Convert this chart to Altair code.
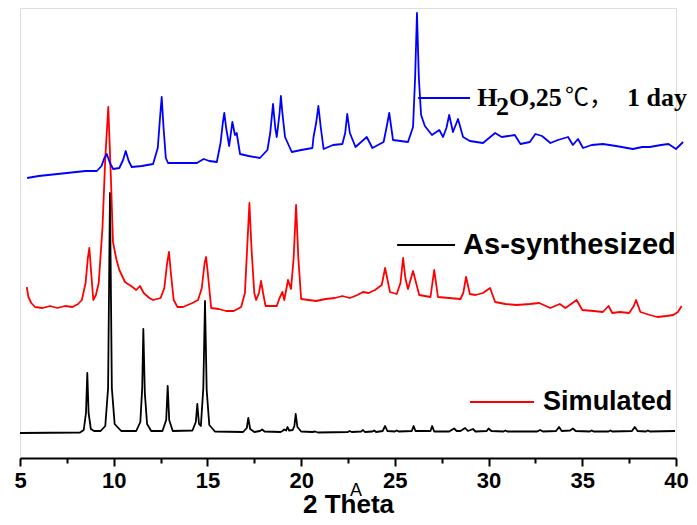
import altair as alt
import pandas as pd

# ---- Simulated (black, bottom) ----
sim_x = [5.0, 8.2, 8.4, 8.52, 8.59, 8.66, 8.78, 8.95, 9.3, 9.55, 9.7, 9.8, 9.9, 10.05, 10.4,
         11.2, 11.42, 11.52, 11.58, 11.66, 11.78, 12.0, 12.6, 12.8, 12.88, 12.96, 13.15,
         14.2, 14.38, 14.46, 14.55, 14.65, 14.78, 14.87, 14.96, 15.1, 15.4,
         16.9, 17.1, 17.18, 17.28, 17.5, 17.8, 17.92, 18.05, 18.9, 19.0, 19.1, 19.2, 19.27, 19.36,
         19.55, 19.64, 19.71, 19.8, 20.0, 20.6, 20.74, 20.9, 22.5, 22.58, 22.7, 23.2, 23.3, 23.4,
         23.8, 23.9, 24.0, 24.35, 24.48, 24.6, 25.0, 25.1, 25.2, 25.9, 26.0, 26.1, 26.9, 26.99, 27.1,
         27.9, 28.16, 28.3, 28.5, 28.75, 28.9, 29.17, 29.3, 29.9, 30.0, 30.15, 30.8, 30.9, 31.0,
         32.6, 32.75, 32.9, 33.6, 33.76, 33.9, 34.35, 34.5, 34.65, 35.4, 35.5, 35.6, 36.4, 36.5, 36.6,
         37.65, 37.8, 37.95, 38.4, 38.5, 38.6, 39.95]
sim_y = [25, 25.5, 28, 45, 85, 45, 29, 27, 27, 32, 70, 265, 70, 34, 27,
         27, 36, 70, 129, 65, 34, 27, 27, 38, 72, 38, 27,
         27.5, 36, 54, 34, 32, 70, 157, 68, 33, 26.5,
         26, 30, 40, 29, 26, 27, 28.5, 26.5, 26, 27, 28.5, 27.5, 31, 27.5,
         28, 32, 44, 31, 26.5, 26, 26.5, 25.5, 26, 27, 26, 26.5, 28, 26,
         26.5, 27.5, 26, 27, 32, 27, 26.5, 27.5, 26.5, 27, 32, 27, 27, 32, 26.5,
         26.5, 29.5, 27, 27, 30, 27, 29, 26.5, 27, 29.5, 27, 26.5, 27.5, 26.5,
         26.5, 28, 26.5, 27, 31, 27, 27.5, 29.5, 27, 26.5, 27.5, 26.5, 26.5, 27.5, 26.5,
         27, 31, 27, 26.5, 27.5, 26.5, 27]

# ---- As-synthesized (red, middle) ----
syn_x = [5.36, 5.45, 5.6, 5.8, 6.2, 6.6, 7.0, 7.4, 7.8, 8.1, 8.3, 8.5, 8.62, 8.7, 8.8, 8.91, 9.05,
         9.2, 9.4, 9.55, 9.71, 9.85, 9.96, 10.15, 10.3, 10.6, 11.0, 11.2, 11.4, 11.6, 11.9, 12.1,
         12.5, 12.7, 12.85, 12.95, 13.05, 13.2, 13.4, 13.7, 14.2, 14.5, 14.7, 14.85, 14.93, 15.02,
         15.2, 15.6, 16.0, 16.4, 16.8, 17.0, 17.12, 17.24, 17.35, 17.5, 17.6, 17.75, 17.86, 17.97,
         18.1, 18.7, 18.85, 19.0, 19.1, 19.3, 19.46, 19.6, 19.73, 19.85, 20.0, 20.4, 20.8, 21.3,
         21.8, 22.2, 22.6, 23.0, 23.3, 23.6, 23.94, 24.3, 24.48, 24.74, 25.1, 25.3, 25.44, 25.56,
         25.7, 25.97, 26.3, 26.9, 27.1, 27.3, 27.9, 28.5, 28.65, 28.8, 29.0, 29.3, 29.7, 30.08,
         30.35, 30.9, 31.5, 32.2, 32.7, 33.3, 33.8, 34.1, 34.7, 35.0, 35.6, 36.1, 36.4, 36.6,
         37.0, 37.5, 37.75, 37.87, 38.1, 38.6, 39.0, 39.5, 39.85, 40.1, 40.3]
syn_y = [171, 161, 155, 151, 150, 152, 150, 152, 151, 154, 158, 175, 200, 210, 185, 158, 163,
         175, 230, 300, 351, 280, 216, 198, 188, 176, 171, 168, 172, 165, 160, 158,
         160, 170, 195, 206, 185, 158, 151, 151, 155, 158, 170, 195, 201, 185,
         150, 149, 147, 147, 151, 165, 210, 255, 210, 165, 158, 165, 177, 165,
         152, 152, 160, 166, 158, 178, 169, 200, 253, 200, 159, 158, 157, 159,
         160, 162, 160, 163, 166, 165, 168, 173, 190, 166, 164, 175, 200, 180,
         169, 187, 163, 161, 188, 161, 160, 159, 165, 181, 164, 163, 165, 170,
         156, 154, 153, 154, 155, 150, 154, 150, 158, 148, 147, 146, 152, 145,
         146, 145, 152, 158, 146, 143, 141, 142, 143, 146, 152]

# ---- H2O, 25 C, 1 day (blue, top) ----
h2o_x = [5.38, 6.0, 6.5, 7.0, 7.5, 8.0, 8.5, 9.1, 9.35, 9.5, 9.63, 9.8, 9.97, 10.3, 10.5, 10.64,
         10.8, 10.96, 11.5, 12.1, 12.35, 12.47, 12.56, 12.66, 12.78, 12.9, 13.5, 14.0, 14.44, 14.8,
         15.1, 15.5, 15.7, 15.82, 15.9, 16.0, 16.16, 16.33, 16.47, 16.56, 16.74, 17.2, 17.8, 18.2,
         18.35, 18.5, 18.62, 18.7, 18.85, 18.92, 19.0, 19.14, 19.5, 20.0, 20.6, 20.66, 20.8, 20.92,
         21.05, 21.2, 21.7, 22.2, 22.35, 22.46, 22.6, 22.9, 23.5, 23.8, 24.4, 24.55, 24.7, 24.85,
         24.9, 25.7, 25.97, 26.08, 26.18, 26.28, 26.4, 26.6, 26.98, 27.37, 27.57, 27.75, 27.9,
         28.1, 28.37, 28.64, 29.0, 29.7, 30.35, 30.7, 31.4, 31.7, 32.2, 32.5, 32.85, 33.3, 33.7,
         34.24, 34.5, 34.77, 35.04, 35.5, 36.1, 36.8, 37.7, 38.2, 38.6, 39.2, 39.6, 40.0, 40.38]
h2o_y = [280, 282, 283, 284, 285, 286, 287, 287, 292, 300, 304, 295, 289, 290, 298, 307,
         297, 291, 292, 294, 310, 340, 361, 330, 300, 295, 295, 295, 295, 299,
         297, 296, 315, 335, 345, 330, 312, 336, 323, 325, 304, 302, 300, 308,
         325, 354, 330, 321, 345, 362, 345, 321, 306, 308, 310, 321, 335, 352,
         330, 309, 313, 314, 325, 344, 325, 311, 321, 310, 316, 330, 345, 325,
         318, 316, 331, 380, 445, 380, 343, 332, 323, 328, 321, 330, 343,
         326, 339, 321, 317, 315, 325, 321, 323, 314, 316, 324, 322, 315, 318,
         321, 313, 319, 310, 313, 314, 312, 309, 311, 311, 313, 314, 309, 316]

tick_values = [5, 7.5, 10, 12.5, 15, 17.5, 20, 22.5, 25, 27.5, 30, 32.5, 35, 37.5, 40]

series_names = ["Simulated", "As-synthesized", "H2O"]
series_colors = ["#000000", "#ff0000", "#0000ff"]

rows = []
for name, xs, ys in [("Simulated", sim_x, sim_y), ("As-synthesized", syn_x, syn_y), ("H2O", h2o_x, h2o_y)]:
    for i, (a, b) in enumerate(zip(xs, ys)):
        rows.append({"theta": a, "intensity": b, "series": name, "idx": i})
df = pd.DataFrame(rows)

xscale = alt.Scale(domain=[5, 40], nice=False, zero=False)
yscale = alt.Scale(domain=[0, 450], nice=False, zero=False)

axis = alt.Axis(
    values=tick_values,
    format="~g",
    labelExpr="datum.value % 5 === 0 ? datum.label : ''",
    tickSize={"condition": {"test": "datum.value % 5 === 0", "value": 8}, "value": 5},
    tickWidth=2, tickColor="black",
    domainColor="black", domainWidth=2,
    labelFont="Liberation Sans", labelFontWeight="bold", labelFontSize=22, labelColor="black",
    labelPadding=4, labelOverlap=False, labelFlush=False,
    title="2 Theta", titleFont="Liberation Sans", titleFontWeight="bold", titleFontSize=26,
    titleColor="black", titlePadding=0, grid=False,
)

lines = alt.Chart(df).mark_line(strokeWidth=1.8, strokeJoin="round").encode(
    x=alt.X("theta:Q", scale=xscale, axis=axis),
    y=alt.Y("intensity:Q", scale=yscale, axis=None),
    color=alt.Color("series:N", scale=alt.Scale(domain=series_names, range=series_colors), legend=None),
    detail="series:N",
    order="idx:Q",
)

# legend-like annotations (drawn as in the figure)
leg = pd.DataFrame({
    "x": [26.24, 25.12, 29.01],
    "x2": [29.01, 28.21, 32.43],
    "y": [360, 213, 56],
    "c": ["#0000ff", "#000000", "#ff0000"],
})
leg_lines = alt.Chart(leg).mark_rule(strokeWidth=2).encode(
    x=alt.X("x:Q", scale=xscale), x2="x2:Q",
    y=alt.Y("y:Q", scale=yscale), color=alt.Color("c:N", scale=None),
)

sans_labels = pd.DataFrame({"t": ["As-synthesized"], "x": [28.64], "y": [213]})
t_syn = alt.Chart(sans_labels).mark_text(align="left", baseline="middle", font="Liberation Sans",
                                         fontWeight="bold", fontSize=29, color="black").encode(
    x=alt.X("x:Q", scale=xscale), y=alt.Y("y:Q", scale=yscale), text="t:N")

sim_label = pd.DataFrame({"t": ["Simulated"], "x": [32.91], "y": [56]})
t_sim = alt.Chart(sim_label).mark_text(align="left", baseline="middle", font="Liberation Sans",
                                       fontWeight="bold", fontSize=27, color="black").encode(
    x=alt.X("x:Q", scale=xscale), y=alt.Y("y:Q", scale=yscale), text="t:N")

h_label = pd.DataFrame({"t": ["H", "2", "O,25"], "x": [29.39, 30.40, 31.09], "y": [360, 351, 360]})
t_h2o = alt.Chart(h_label).mark_text(align="left", baseline="middle",
                                     font="Liberation Serif", fontWeight="bold",
                                     fontSize=26, color="black").encode(
    x=alt.X("x:Q", scale=xscale), y=alt.Y("y:Q", scale=yscale), text="t:N")

deg_label = pd.DataFrame({"t": ["\u2103\uff0c"], "x": [34.08], "y": [360]})
t_deg = alt.Chart(deg_label).mark_text(align="left", baseline="middle",
                                       font="Noto Sans CJK SC", fontWeight="normal",
                                       fontSize=24, color="black").encode(
    x=alt.X("x:Q", scale=xscale), y=alt.Y("y:Q", scale=yscale), text="t:N")

day_label = pd.DataFrame({"t": ["1 day"], "x": [37.39], "y": [360]})
t_day = alt.Chart(day_label).mark_text(align="left", baseline="middle",
                                       font="Liberation Serif", fontWeight="bold",
                                       fontSize=26, color="black").encode(
    x=alt.X("x:Q", scale=xscale), y=alt.Y("y:Q", scale=yscale), text="t:N")

a_label = pd.DataFrame({"t": ["A"], "x": [22.93], "y": [-33]})
t_a = alt.Chart(a_label).mark_text(align="center", baseline="middle", font="Liberation Sans Narrow, Liberation Sans",
                                   fontSize=18, color="black").encode(
    x=alt.X("x:Q", scale=xscale), y=alt.Y("y:Q", scale=yscale), text="t:N")

chart = alt.layer(lines, leg_lines, t_syn, t_sim, t_h2o, t_deg, t_day, t_a).properties(
    width=656, height=450,
    autosize=alt.AutoSizeParams(type="none"),
    padding={"left": 12, "top": 0, "right": 13, "bottom": 59},
).configure_view(stroke=None).configure(background="white")

chart.save("out.html", embed_options={"renderer": "svg", "actions": False})
